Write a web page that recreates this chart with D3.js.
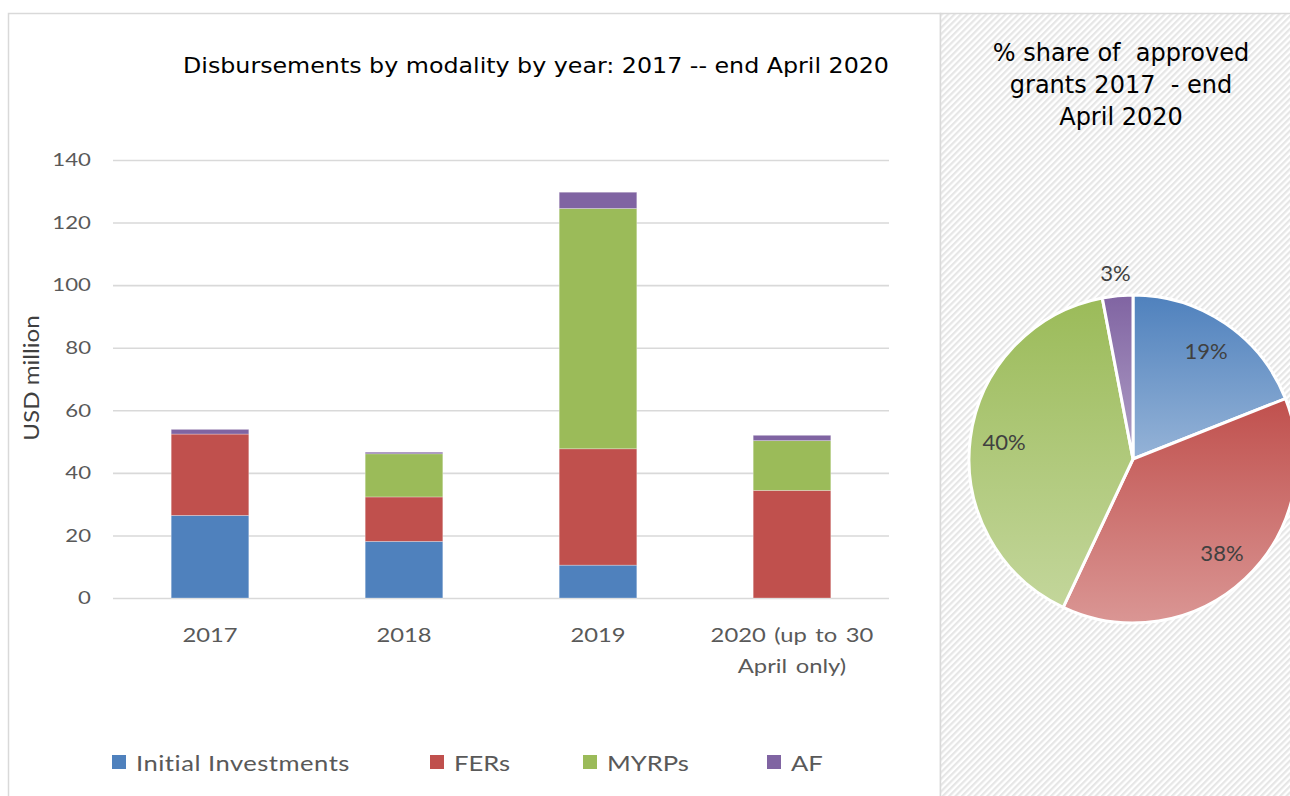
<!DOCTYPE html>
<html><head><meta charset="utf-8">
<script src="https://cdn.jsdelivr.net/npm/d3@7"></script>
<style>
html,body{margin:0;padding:0;background:#fff;}
svg{display:block;}
</style></head>
<body>
<svg id="chart" width="1290" height="796"></svg>
<script>
// ---- data ----
const categories = ["2017", "2018", "2019", "2020 (up to 30\nApril only)"];
const seriesNames = ["Initial Investments", "FERs", "MYRPs", "AF"];
const initialInvestments = [26.4, 18.1, 10.5, 0];
const fers = [26.0, 14.2, 37.2, 34.4];
const myrps = [0, 13.8, 76.8, 15.9];
const af = [1.5, 0.5, 5.2, 1.7];
const yTicks = [0, 20, 40, 60, 80, 100, 120, 140];
const pieLabels = ["Initial Investments", "FERs", "MYRPs", "AF"];
const pieShares = [19, 38, 40, 3];

const colors = ["#4f81bd", "#c0504d", "#9bbb59", "#8064a2"];
const lightColors = ["#95b3d7", "#da9694", "#c3d69b", "#b1a0c7"];

const svg = d3.select("#chart");
const defs = svg.append("defs");

// hatch pattern for right panel
const pat = defs.append("pattern").attr("id", "hatch").attr("patternUnits", "userSpaceOnUse")
  .attr("width", 4.5).attr("height", 4.5).attr("patternTransform", "rotate(45)");
pat.append("rect").attr("width", 4.5).attr("height", 4.5).attr("fill", "#ffffff");
pat.append("rect").attr("width", 2.2).attr("height", 4.5).attr("fill", "#e6e6e6");

// gradients for pie slices
colors.forEach((c, i) => {
  const g = defs.append("linearGradient").attr("id", "grad" + i)
    .attr("x1", 0).attr("y1", 0).attr("x2", 0).attr("y2", 1);
  g.append("stop").attr("offset", "0%").attr("stop-color", c);
  g.append("stop").attr("offset", "100%").attr("stop-color", lightColors[i]);
});

// ---- panels ----
svg.append("rect").attr("x", 8.5).attr("y", 13.5).attr("width", 932).attr("height", 800)
  .attr("fill", "#fff").attr("stroke", "#d9d9d9").attr("stroke-width", 1.5);
svg.append("rect").attr("x", 940.5).attr("y", 13.5).attr("width", 360).attr("height", 800)
  .attr("fill", "url(#hatch)").attr("stroke", "#d9d9d9").attr("stroke-width", 1.5);

const titleFont = "'DejaVu Sans', sans-serif";
const axisFont = "Lato, 'Open Sans', sans-serif";
const SX = 1.22; // horizontal stretch of the left chart's texts

function stretchedText(g, x, y, sx, txt) {
  return g.append("text").attr("transform", `translate(${x},${y}) scale(${sx},1)`).text(txt);
}

stretchedText(svg, 536, 73, 1.08, "Disbursements by modality by year: 2017 -- end April 2020")
  .attr("text-anchor", "middle").attr("font-family", titleFont).attr("font-size", 22).attr("fill", "#000");

// scales
const x = d3.scaleBand().domain(categories).range([113, 889]).paddingInner(0.6).paddingOuter(0.3);
const y = d3.scaleLinear().domain([0, 140]).range([598, 160]);

// gridlines + tick labels
const pad = 22;
const gAxis = svg.append("g").attr("transform", "translate(113,0)")
  .call(d3.axisLeft(y).tickValues(yTicks).tickSize(-776).tickPadding(pad).tickFormat(d3.format("d")));
gAxis.select(".domain").remove();
gAxis.selectAll(".tick line").attr("stroke", "#d9d9d9").attr("stroke-width", 1.6);
gAxis.selectAll(".tick text").attr("font-family", axisFont).attr("font-size", 18.2).attr("fill", "#595959")
  .attr("x", -pad / SX).attr("transform", `scale(${SX},1)`);

// y axis title
svg.append("text").attr("transform", "translate(39,378) rotate(-90) scale(1.15,1)").attr("text-anchor", "middle")
  .attr("font-family", axisFont).attr("font-size", 21).attr("fill", "#404040").text("USD million");

// stacked bars
const rows = categories.map((c, i) => ({
  cat: c,
  "Initial Investments": initialInvestments[i],
  "FERs": fers[i],
  "MYRPs": myrps[i],
  "AF": af[i]
}));
const stack = d3.stack().keys(seriesNames)(rows);
svg.append("g").selectAll("g").data(stack).join("g")
  .attr("fill", (d, i) => colors[i])
  .selectAll("rect").data(d => d).join("rect")
  .attr("x", d => x(d.data.cat)).attr("width", x.bandwidth())
  .attr("y", d => y(d[1])).attr("height", d => Math.max(0, y(d[0]) - y(d[1])))
  .attr("stroke", "rgba(255,255,255,0.35)").attr("stroke-width", 0.8);

// x labels
const xl = svg.append("g");
categories.forEach(c => {
  c.split("\n").forEach((l, k) => {
    stretchedText(xl, x(c) + x.bandwidth() / 2, 642 + k * 31, SX, l)
      .attr("text-anchor", "middle").attr("font-family", axisFont).attr("font-size", 19.5)
      .attr("fill", "#595959").style("word-spacing", "2px");
  });
});

// legend
const legendX = [112, 430, 583, 767];
const lg = svg.append("g");
seriesNames.forEach((s, i) => {
  lg.append("rect").attr("x", legendX[i]).attr("y", 755).attr("width", 14).attr("height", 14).attr("fill", colors[i]);
  stretchedText(lg, legendX[i] + 24, 771, SX, s).attr("font-family", axisFont)
    .attr("font-size", 21).attr("fill", "#595959").style("letter-spacing", s.length > 5 ? "0.4px" : "0px");
});

// ---- pie ----
const pieTitle = ["% share of  approved", "grants 2017  - end", "April 2020"];
const pt = svg.append("g");
pieTitle.forEach((l, k) => {
  stretchedText(pt, 1121, 61 + k * 32, 1.0, l).attr("text-anchor", "middle").attr("font-family", titleFont)
    .attr("font-size", 24).attr("fill", "#000").style("white-space", "pre");
});

const cx = 1133, cy = 459, r = 164;
const pie = d3.pie().sort(null).value(d => d)(pieShares);
const arc = d3.arc().innerRadius(0).outerRadius(r);
const pg = svg.append("g").attr("transform", `translate(${cx},${cy})`);
pg.selectAll("path").data(pie).join("path")
  .attr("d", arc).attr("fill", (d, i) => `url(#grad${i})`)
  .attr("stroke", "#fff").attr("stroke-width", 3).attr("stroke-linejoin", "round");

const labelArc = d3.arc().innerRadius(130).outerRadius(130);
const outArc = d3.arc().innerRadius(186).outerRadius(186);
pg.selectAll("text").data(pie).join("text")
  .attr("transform", d => `translate(${(d.data < 5 ? outArc : labelArc).centroid(d)}) scale(1.05,1)`)
  .attr("text-anchor", "middle").attr("dy", "0.35em")
  .attr("font-family", axisFont).attr("font-size", 21).attr("fill", "#404040")
  .text(d => d.data + "%");
</script>
</body></html>
